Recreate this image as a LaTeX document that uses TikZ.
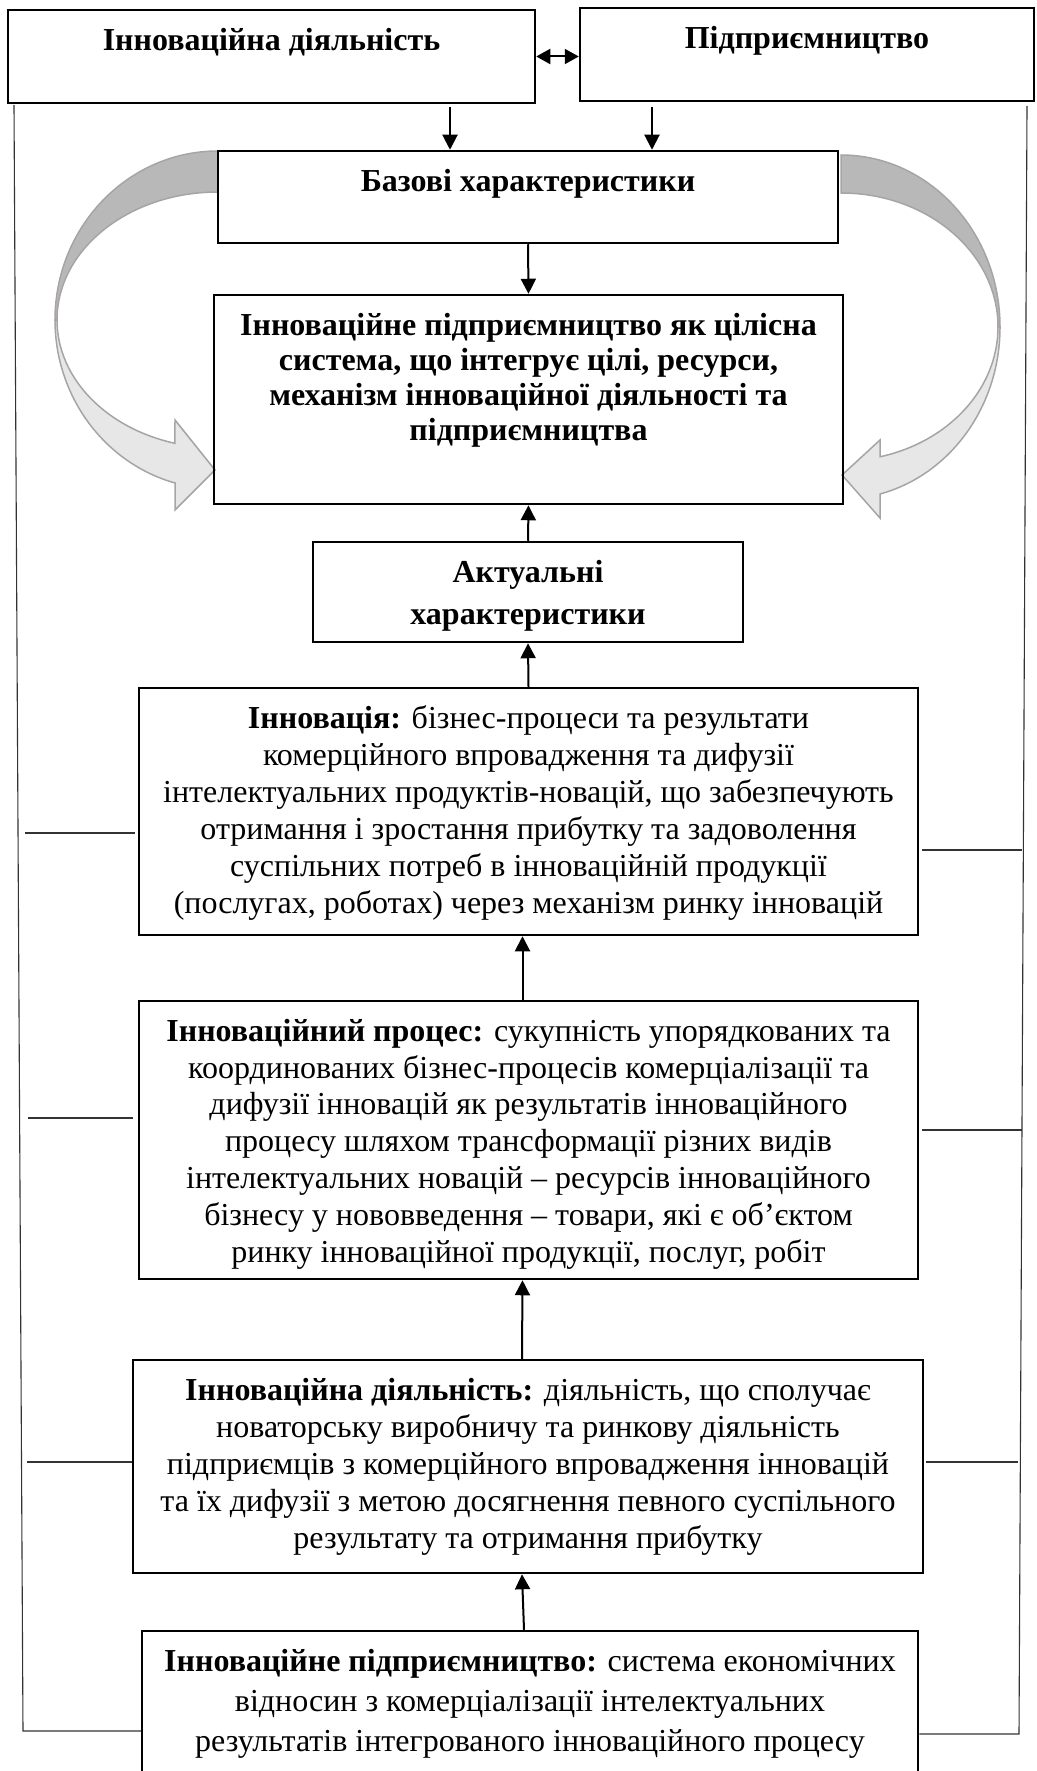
\documentclass[tikz,border=0pt]{standalone}
\usepackage{fontspec}
\setmainfont{Liberation Serif}
\usetikzlibrary{arrows.meta, positioning, calc}

\definecolor{ArcDark}{RGB}{184, 184, 184}
\definecolor{ArcLight}{RGB}{231, 231, 231}
\definecolor{ArcEdge}{RGB}{168, 164, 166}

% card text: height, width, line skip, text
\newcommand{\cardtext}[4]{\parbox[c][#1pt][t]{#2pt}{\centering\fontsize{32}{#3}\selectfont\vspace*{18pt}#4}}

\begin{document}
\begin{tikzpicture}[x=1pt, y=-1pt,
    card/.style={draw, line width=2.5pt, inner sep=0pt},
    link/.style={-{Triangle[length=15pt, width=15pt]}, line width=2pt},
    rail/.style={line width=1.1pt, black!80},
    swirl/.style={draw=ArcEdge, line width=1.5pt}]
    \useasboundingbox (0,0) rectangle (1036,1771);

    % Curved arrows
    \draw[swirl, fill=ArcDark] (218,151) arc[start angle=270, end angle=180, x radius=163, y radius=169] -- (57,320) arc[start angle=180, end angle=270, x radius=161, y radius=128] -- cycle;
    \draw[swirl, fill=ArcLight] (57,320) arc[start angle=180, end angle=105.5, x radius=161, y radius=128] -- (175,420) -- (215,470) -- (175,510) -- (175,483) arc[start angle=105.3, end angle=180, x radius=163, y radius=169] -- cycle;
    \draw[swirl, fill=ArcDark] (841,155) arc[start angle=270, end angle=360, x radius=159, y radius=172] -- (998,327) arc[start angle=0, end angle=-90, x radius=157, y radius=134] -- cycle;
    \draw[swirl, fill=ArcLight] (998,327) arc[start angle=0, end angle=75.6, x radius=157, y radius=134] -- (880,440) -- (842,475) -- (880,518) -- (880,494) arc[start angle=75.8, end angle=0, x radius=159, y radius=172] -- cycle;

    % Top cards
    \node[card] (inno) at (271.5,56.5) {\cardtext{93}{527}{37}{\bfseries Інноваційна діяльність}};
    \node[card] (pidpr) at (807,54.5) {\cardtext{93}{454}{37}{\bfseries Підприємництво}};
    \node[card] (baz) at (528,197) {\cardtext{92}{620}{37}{\bfseries Базові характеристики}};
    \node[card] (sys) at (528.5,399.5) {\cardtext{209}{629}{35}{\bfseries Інноваційне підприємництво як цілісна\\
        система, що інтегрує цілі, ресурси,\\ механізм інноваційної діяльності та\\ підприємництва}};
    \node[card] (act) at (528,592) {\cardtext{100}{430}{42}{\bfseries Актуальні\\ характеристики}};

    % Definition cards
    \node[card] (innov) at (528.5,811.5) {\cardtext{247}{779}{37}{\textbf{Інновація:} бізнес-процеси та результати\\
        комерційного впровадження та дифузії\\ інтелектуальних продуктів-новацій, що забезпечують\\
        отримання і зростання прибутку та задоволення\\ суспільних потреб в інноваційній продукції\\
        (послугах, роботах) через механізм ринку інновацій}};
    \node[card] (proc) at (528.5,1140) {\cardtext{278}{779}{36.8}{\textbf{Інноваційний процес:} сукупність упорядкованих та\\
        координованих бізнес-процесів комерціалізації та\\ дифузії інновацій як результатів інноваційного\\
        процесу шляхом трансформації різних видів\\ інтелектуальних новацій – ресурсів інноваційного\\
        бізнесу у нововведення – товари, які є об’єктом\\ ринку інноваційної продукції, послуг, робіт}};
    \node[card] (dial) at (528,1466.5) {\cardtext{213}{790}{37}{\textbf{Інноваційна діяльність:} діяльність, що сполучає\\
        новаторську виробничу та ринкову діяльність\\ підприємців з комерційного впровадження інновацій\\
        та їх дифузії з метою досягнення певного суспільного\\ результату та отримання прибутку}};
    \node[card] (ent) at (530,1711) {\cardtext{160}{776}{40}{\textbf{Інноваційне підприємництво:} система економічних\\
        відносин з комерціалізації інтелектуальних\\ результатів інтегрованого інноваційного процесу}};

    % Arrows
    \draw[{Triangle[length=14pt, width=15pt]}-{Triangle[length=14pt, width=15pt]}, line width=2pt] (inno.east) -- (inno.east -| pidpr.west);
    \coordinate (bazInL) at ($(baz.north)+(-78,0)$);
    \coordinate (bazInR) at ($(baz.north)+(124,0)$);
    \draw[link, shorten <=3pt] (bazInL |- inno.south) -- (bazInL);
    \draw[link, shorten <=5pt] (bazInR |- pidpr.south) -- (bazInR);
    \draw[link] (baz.south) -- (sys.north);
    \draw[link] (act.north) -- (sys.south);
    \draw[link] (innov.north) -- (act.south);
    \draw[link] ($(proc.north)+(-6,0)$) -- ($(innov.south)+(-6,0)$);
    \draw[link] ($(dial.north)+(-6,0)$) -- ($(proc.south)+(-6,0)$);
    \draw[link] ($(ent.north)+(-6,0)$) -- ($(dial.south)+(-6,0)$);

    % Side rails
    \coordinate (railTL) at (14,105);
    \coordinate (railBL) at (23,1731);
    \coordinate (railTR) at (1027,106);
    \coordinate (railBR) at (1019,1734);
    \draw[rail] (railTL) -- (railBL) -- (railBL -| ent.west);
    \draw[rail] (railTR) -- (railBR) -- (railBR -| ent.east);

    % Ticks
    \draw[rail] ($(innov.west)+(-3,21.5)$) -- ++(-110,0);
    \draw[rail] ($(proc.west)+(-5,-22)$) -- ++(-105,0);
    \draw[rail] ($(dial.west)+(0,-4.5)$) -- ++(-105,0);
    \draw[rail] ($(innov.east)+(3,38.5)$) -- ++(100,0);
    \draw[rail] ($(proc.east)+(3,-10)$) -- ++(100,0);
    \draw[rail] ($(dial.east)+(2,-4.5)$) -- ++(92,0);
\end{tikzpicture}
\end{document}
